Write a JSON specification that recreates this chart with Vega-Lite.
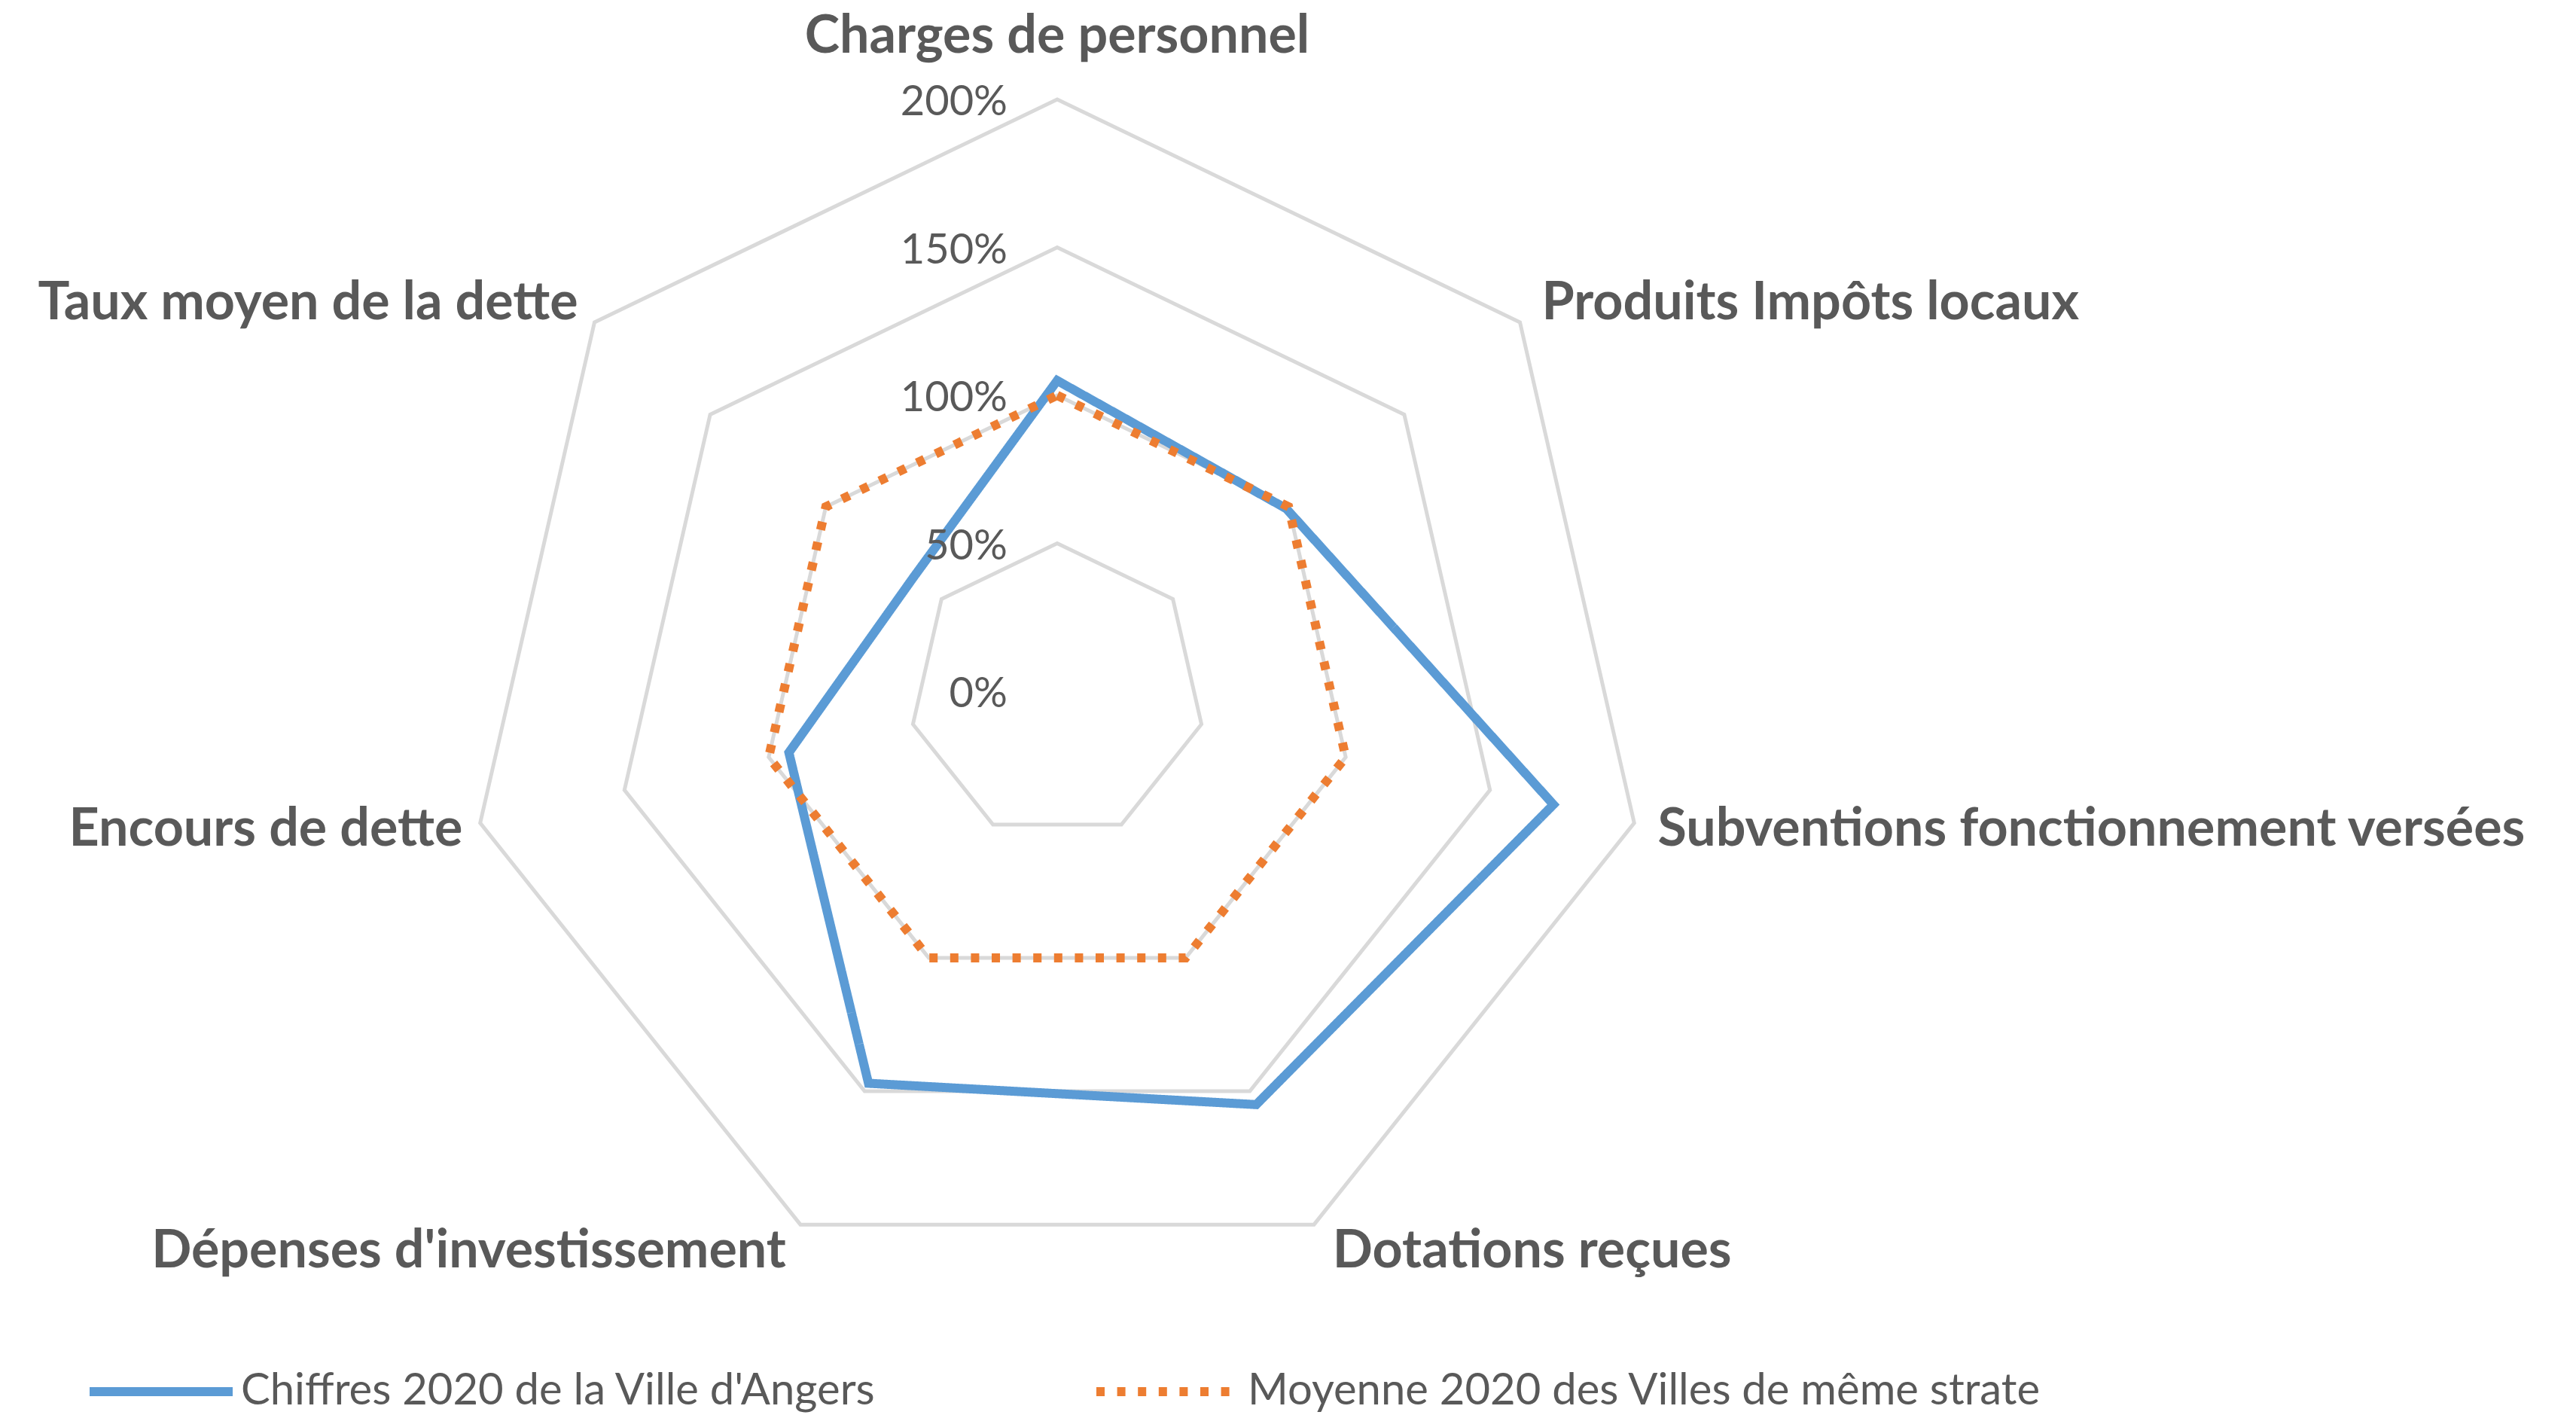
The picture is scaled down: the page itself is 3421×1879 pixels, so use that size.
{
  "$schema": "https://vega.github.io/schema/vega-lite/v6.json",
  "width": 3421,
  "height": 1879,
  "autosize": {"type": "none"},
  "padding": 0,
  "background": "white",
  "config": {"view": {"stroke": null}, "font": "Lato"},
  "datasets": {
    "rings": [
      {"level": 50, "k": [0, 1, 2, 3, 4, 5, 6]},
      {"level": 100, "k": [0, 1, 2, 3, 4, 5, 6]},
      {"level": 150, "k": [0, 1, 2, 3, 4, 5, 6]},
      {"level": 200, "k": [0, 1, 2, 3, 4, 5, 6]}
    ],
    "ticks": [
      {"tick": 0},
      {"tick": 50},
      {"tick": 100},
      {"tick": 150},
      {"tick": 200}
    ],
    "scores": [
      {"series": "Chiffres 2020 de la Ville d'Angers", "category": "Charges de personnel", "order": 0, "value": 105},
      {"series": "Chiffres 2020 de la Ville d'Angers", "category": "Produits Impôts locaux", "order": 1, "value": 99},
      {"series": "Chiffres 2020 de la Ville d'Angers", "category": "Subventions fonctionnement versées", "order": 2, "value": 172},
      {"series": "Chiffres 2020 de la Ville d'Angers", "category": "Dotations reçues", "order": 3, "value": 155},
      {"series": "Chiffres 2020 de la Ville d'Angers", "category": "Dépenses d'investissement", "order": 4, "value": 147},
      {"series": "Chiffres 2020 de la Ville d'Angers", "category": "Encours de dette", "order": 5, "value": 93},
      {"series": "Chiffres 2020 de la Ville d'Angers", "category": "Taux moyen de la dette", "order": 6, "value": 62},
      {"series": "Moyenne 2020 des Villes de même strate", "category": "Charges de personnel", "order": 0, "value": 100},
      {"series": "Moyenne 2020 des Villes de même strate", "category": "Produits Impôts locaux", "order": 1, "value": 100},
      {"series": "Moyenne 2020 des Villes de même strate", "category": "Subventions fonctionnement versées", "order": 2, "value": 100},
      {"series": "Moyenne 2020 des Villes de même strate", "category": "Dotations reçues", "order": 3, "value": 100},
      {"series": "Moyenne 2020 des Villes de même strate", "category": "Dépenses d'investissement", "order": 4, "value": 100},
      {"series": "Moyenne 2020 des Villes de même strate", "category": "Encours de dette", "order": 5, "value": 100},
      {"series": "Moyenne 2020 des Villes de même strate", "category": "Taux moyen de la dette", "order": 6, "value": 100}
    ]
  },
  "layer": [
    {
      "data": {"name": "rings"},
      "transform": [
        {"flatten": ["k"]},
        {"calculate": "datum.k * 2 * PI / 7", "as": "a"},
        {"calculate": "datum.level * sin(datum.a)", "as": "gx"},
        {"calculate": "datum.level * cos(datum.a)", "as": "gy"}
      ],
      "mark": {"type": "line", "interpolate": "linear-closed", "stroke": "#D9D9D9", "strokeWidth": 5, "strokeJoin": "miter"},
      "encoding": {
        "x": {"field": "gx", "type": "quantitative", "axis": null, "scale": {"domain": [-357.25, 513.23], "nice": false, "zero": false}},
        "y": {"field": "gy", "type": "quantitative", "axis": null, "scale": {"domain": [-244.53, 233.59], "nice": false, "zero": false}},
        "detail": {"field": "level", "type": "nominal"},
        "order": {"field": "k", "type": "quantitative"}
      }
    },
    {
      "data": {"name": "scores"},
      "transform": [
        {"calculate": "datum.order * 2 * PI / 7", "as": "a"},
        {"calculate": "datum.value * sin(datum.a)", "as": "px"},
        {"calculate": "datum.value * cos(datum.a)", "as": "py"}
      ],
      "mark": {"type": "line", "interpolate": "linear-closed", "strokeWidth": 12, "strokeJoin": "miter", "strokeCap": "butt"},
      "encoding": {
        "x": {"field": "px", "type": "quantitative", "axis": null, "scale": {"domain": [-357.25, 513.23], "nice": false, "zero": false}},
        "y": {"field": "py", "type": "quantitative", "axis": null, "scale": {"domain": [-244.53, 233.59], "nice": false, "zero": false}},
        "order": {"field": "order", "type": "quantitative"},
        "color": {
          "field": "series",
          "type": "nominal",
          "scale": {"domain": ["Chiffres 2020 de la Ville d'Angers", "Moyenne 2020 des Villes de même strate"], "range": ["#5B9BD5", "#ED7D31"]},
          "legend": {
            "title": null,
            "orient": "none",
            "direction": "horizontal",
            "legendX": 113,
            "legendY": 1747,
            "symbolType": "stroke",
            "symbolSize": 36100,
            "symbolStrokeWidth": 12,
            "labelFont": "Lato",
            "labelFontSize": 58,
            "labelColor": "#595959",
            "labelOffset": 5,
            "labelLimit": 3000,
            "columnPadding": 268
          }
        },
        "strokeDash": {
          "field": "series",
          "type": "nominal",
          "scale": {"domain": ["Chiffres 2020 de la Ville d'Angers", "Moyenne 2020 des Villes de même strate"], "range": [[1, 0], [11, 16.6]]},
          "legend": {
            "title": null,
            "orient": "none",
            "direction": "horizontal",
            "legendX": 113,
            "legendY": 1747,
            "symbolType": "stroke",
            "symbolSize": 36100,
            "symbolStrokeWidth": 12,
            "labelFont": "Lato",
            "labelFontSize": 58,
            "labelColor": "#595959",
            "labelOffset": 5,
            "labelLimit": 3000,
            "columnPadding": 268
          }
        }
      }
    },
    {
      "data": {"name": "ticks"},
      "transform": [
        {"calculate": "datum.tick + '%'", "as": "lbl"}
      ],
      "mark": {"type": "text", "align": "right", "baseline": "middle", "dx": -66, "dy": 4, "font": "Lato", "fontSize": 56, "color": "#595959"},
      "encoding": {
        "x": {"datum": 0, "type": "quantitative", "scale": {"domain": [-357.25, 513.23], "nice": false, "zero": false}},
        "y": {"field": "tick", "type": "quantitative", "scale": {"domain": [-244.53, 233.59], "nice": false, "zero": false}},
        "text": {"field": "lbl"}
      }
    },
    {
      "data": {"name": "scores"},
      "transform": [
        {"filter": {"field": "series", "equal": "Chiffres 2020 de la Ville d'Angers"}},
        {"filter": "datum.order == 0"},
        {"calculate": "datum.order * 2 * PI / 7", "as": "a"},
        {"calculate": "200 * sin(datum.a)", "as": "lx"},
        {"calculate": "210 * cos(datum.a) + 11", "as": "ly"}
      ],
      "mark": {"type": "text", "align": "center", "baseline": "middle", "font": "Lato", "fontWeight": "bold", "fontSize": 70, "color": "#595959"},
      "encoding": {
        "x": {"field": "lx", "type": "quantitative"},
        "y": {"field": "ly", "type": "quantitative"},
        "text": {"field": "category"}
      }
    },
    {
      "data": {"name": "scores"},
      "transform": [
        {"filter": {"field": "series", "equal": "Chiffres 2020 de la Ville d'Angers"}},
        {"filter": "datum.order >= 1 && datum.order <= 3"},
        {"calculate": "datum.order * 2 * PI / 7", "as": "a"},
        {"calculate": "200 * sin(datum.a) + 5 + 3 * abs(sin(datum.a))", "as": "lx"},
        {"calculate": "210 * cos(datum.a)", "as": "ly"}
      ],
      "mark": {"type": "text", "align": "left", "baseline": "middle", "font": "Lato", "fontWeight": "bold", "fontSize": 70, "color": "#595959"},
      "encoding": {
        "x": {"field": "lx", "type": "quantitative"},
        "y": {"field": "ly", "type": "quantitative"},
        "text": {"field": "category"}
      }
    },
    {
      "data": {"name": "scores"},
      "transform": [
        {"filter": {"field": "series", "equal": "Chiffres 2020 de la Ville d'Angers"}},
        {"filter": "datum.order >= 4"},
        {"calculate": "datum.order * 2 * PI / 7", "as": "a"},
        {"calculate": "200 * sin(datum.a) - 4 - 2 * abs(sin(datum.a))", "as": "lx"},
        {"calculate": "210 * cos(datum.a)", "as": "ly"}
      ],
      "mark": {"type": "text", "align": "right", "baseline": "middle", "font": "Lato", "fontWeight": "bold", "fontSize": 70, "color": "#595959"},
      "encoding": {
        "x": {"field": "lx", "type": "quantitative"},
        "y": {"field": "ly", "type": "quantitative"},
        "text": {"field": "category"}
      }
    }
  ]
}
